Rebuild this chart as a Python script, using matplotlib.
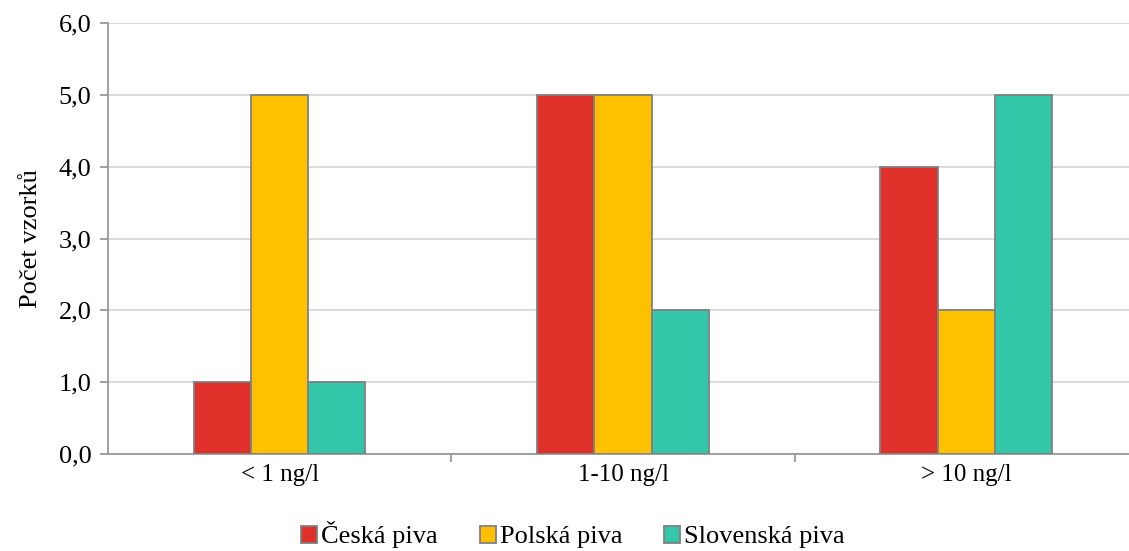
import matplotlib.pyplot as plt
import numpy as np

plt.rcParams['font.family'] = ['Liberation Serif', 'DejaVu Serif']

categories = ['< 1 ng/l', '1-10 ng/l', '> 10 ng/l']
ceska = [1, 5, 4]
polska = [5, 5, 2]
slovenska = [1, 2, 5]
series_names = ['Česká piva', 'Polská piva', 'Slovenská piva']
colors = ['#E0302A', '#FFC000', '#33C6A8']

fig = plt.figure(figsize=(11.29, 5.51), dpi=100)
ax = fig.add_axes([108 / 1129, 97 / 551, 1030 / 1129, 431 / 551])

x = np.arange(len(categories))
w = 1 / 6
for i, (vals, name, col) in enumerate(zip([ceska, polska, slovenska], series_names, colors)):
    ax.bar(x + (i - 1) * w, vals, w, color=col, edgecolor='#808080',
           linewidth=1.3, label=name, zorder=3)

ax.set_xlim(-0.5, 2.5)
ax.set_ylim(0, 6)
yt = np.arange(0, 7, 1)
ax.set_yticks(yt)
ax.set_yticklabels([('%.1f' % v).replace('.', ',') for v in yt])
ax.set_xticks(x)
ax.set_xticklabels(categories)
ax.set_xticks([0.5, 1.5], minor=True)
ax.tick_params(axis='x', which='major', length=0, pad=7, labelsize=18)
ax.tick_params(axis='x', which='minor', length=6, color='#999999', width=1.3)
ax.tick_params(axis='y', length=6, color='#999999', width=1.3, labelsize=19, pad=6)
ax.grid(axis='y', color='#D9D9D9', linewidth=1.3, zorder=0)
for s in ['top', 'right']:
    ax.spines[s].set_visible(False)
for s in ['left', 'bottom']:
    ax.spines[s].set_color('#999999')
    ax.spines[s].set_linewidth(1.3)
ax.set_ylabel('Počet vzorků', fontsize=19, labelpad=12)

fig.legend(loc='center', bbox_to_anchor=(573 / 1129, 1 - 535 / 551), ncol=3,
           frameon=False, fontsize=19, handlelength=0.6, handleheight=0.6,
           handletextpad=0.15, columnspacing=1.6, borderpad=0.2)

fig.savefig('out.png', dpi=100)
